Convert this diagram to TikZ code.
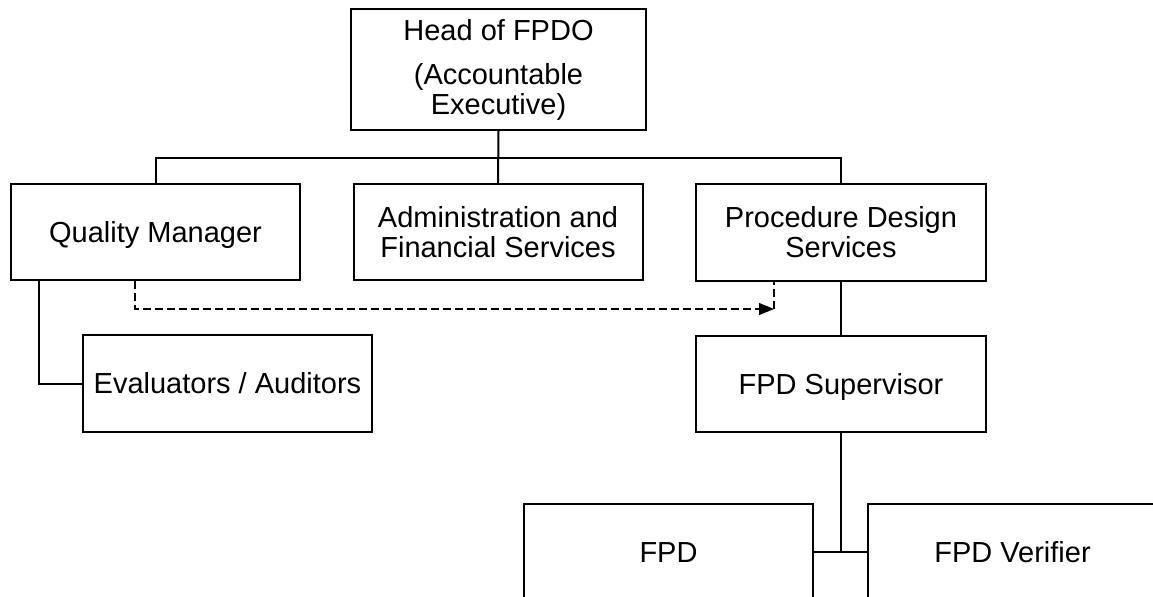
\documentclass[tikz,border=0pt]{standalone}
\usepackage{fontspec}
\setmainfont{Liberation Sans}
\usetikzlibrary{arrows.meta}
\begin{document}
\begin{tikzpicture}[x=0.5pt,y=-0.5pt,
  box/.style={draw=black, line width=1pt, fill=white, align=center, inner sep=0pt,
    font=\fontsize{14.5}{15}\selectfont,
    minimum width=144.5pt, minimum height=48pt},
  oneline/.style={text height=10.4pt, text depth=0pt},
  conn/.style={draw=black, line width=1pt},
  dashconn/.style={draw=black, line width=0.55pt, dash pattern=on 4pt off 2pt}]
\useasboundingbox (0,0) rectangle (1153,596);
\clip (0,0) rectangle (1153,596);
\fill[white] (0,0) rectangle (1153,596);
% nodes
\node[box, minimum width=147.5pt, minimum height=60.5pt] (head) at (498.5,69.5) {Head of FPDO\\[7pt](Accountable\\Executive)};
\node[box, oneline] (qm) at (155.5,232) {Quality Manager};
\node[box] (admin) at (498,232) {Administration and\\Financial Services};
\node[box, minimum width=145pt, minimum height=48.5pt] (proc) at (841,232.5) {Procedure Design\\Services};
\node[box, oneline, minimum height=48.5pt] (eval) at (227.5,383.5) {Evaluators / Auditors};
\node[box, oneline, minimum width=145pt] (sup) at (841,384) {FPD Supervisor};
\node[box, oneline] (fpd) at (668.5,552) {FPD};
\node[box, oneline] (ver) at (1012.5,552) {FPD Verifier};
% coordinates
\coordinate (bus) at (498,158);
\coordinate (j) at (841,552);
\coordinate (dl) at (774,309);
% connectors
\draw[conn] (head.south) -- (admin.north);
\draw[conn] (qm.north) |- (bus) -| (proc.north);
\draw[conn] ([xshift=14.5pt]qm.south west) |- (eval.west);
\draw[conn] (proc.south) -- (sup.north);
\draw[conn] (sup.south) -- (j);
\draw[conn] (fpd.east) -- (ver.west);
\draw[dashconn, -{Triangle[length=7.5pt,width=6pt]}] ([xshift=62.5pt]qm.south west) |- (dl);
\draw[dashconn] (dl) -- (dl |- proc.south);
\end{tikzpicture}
\end{document}
